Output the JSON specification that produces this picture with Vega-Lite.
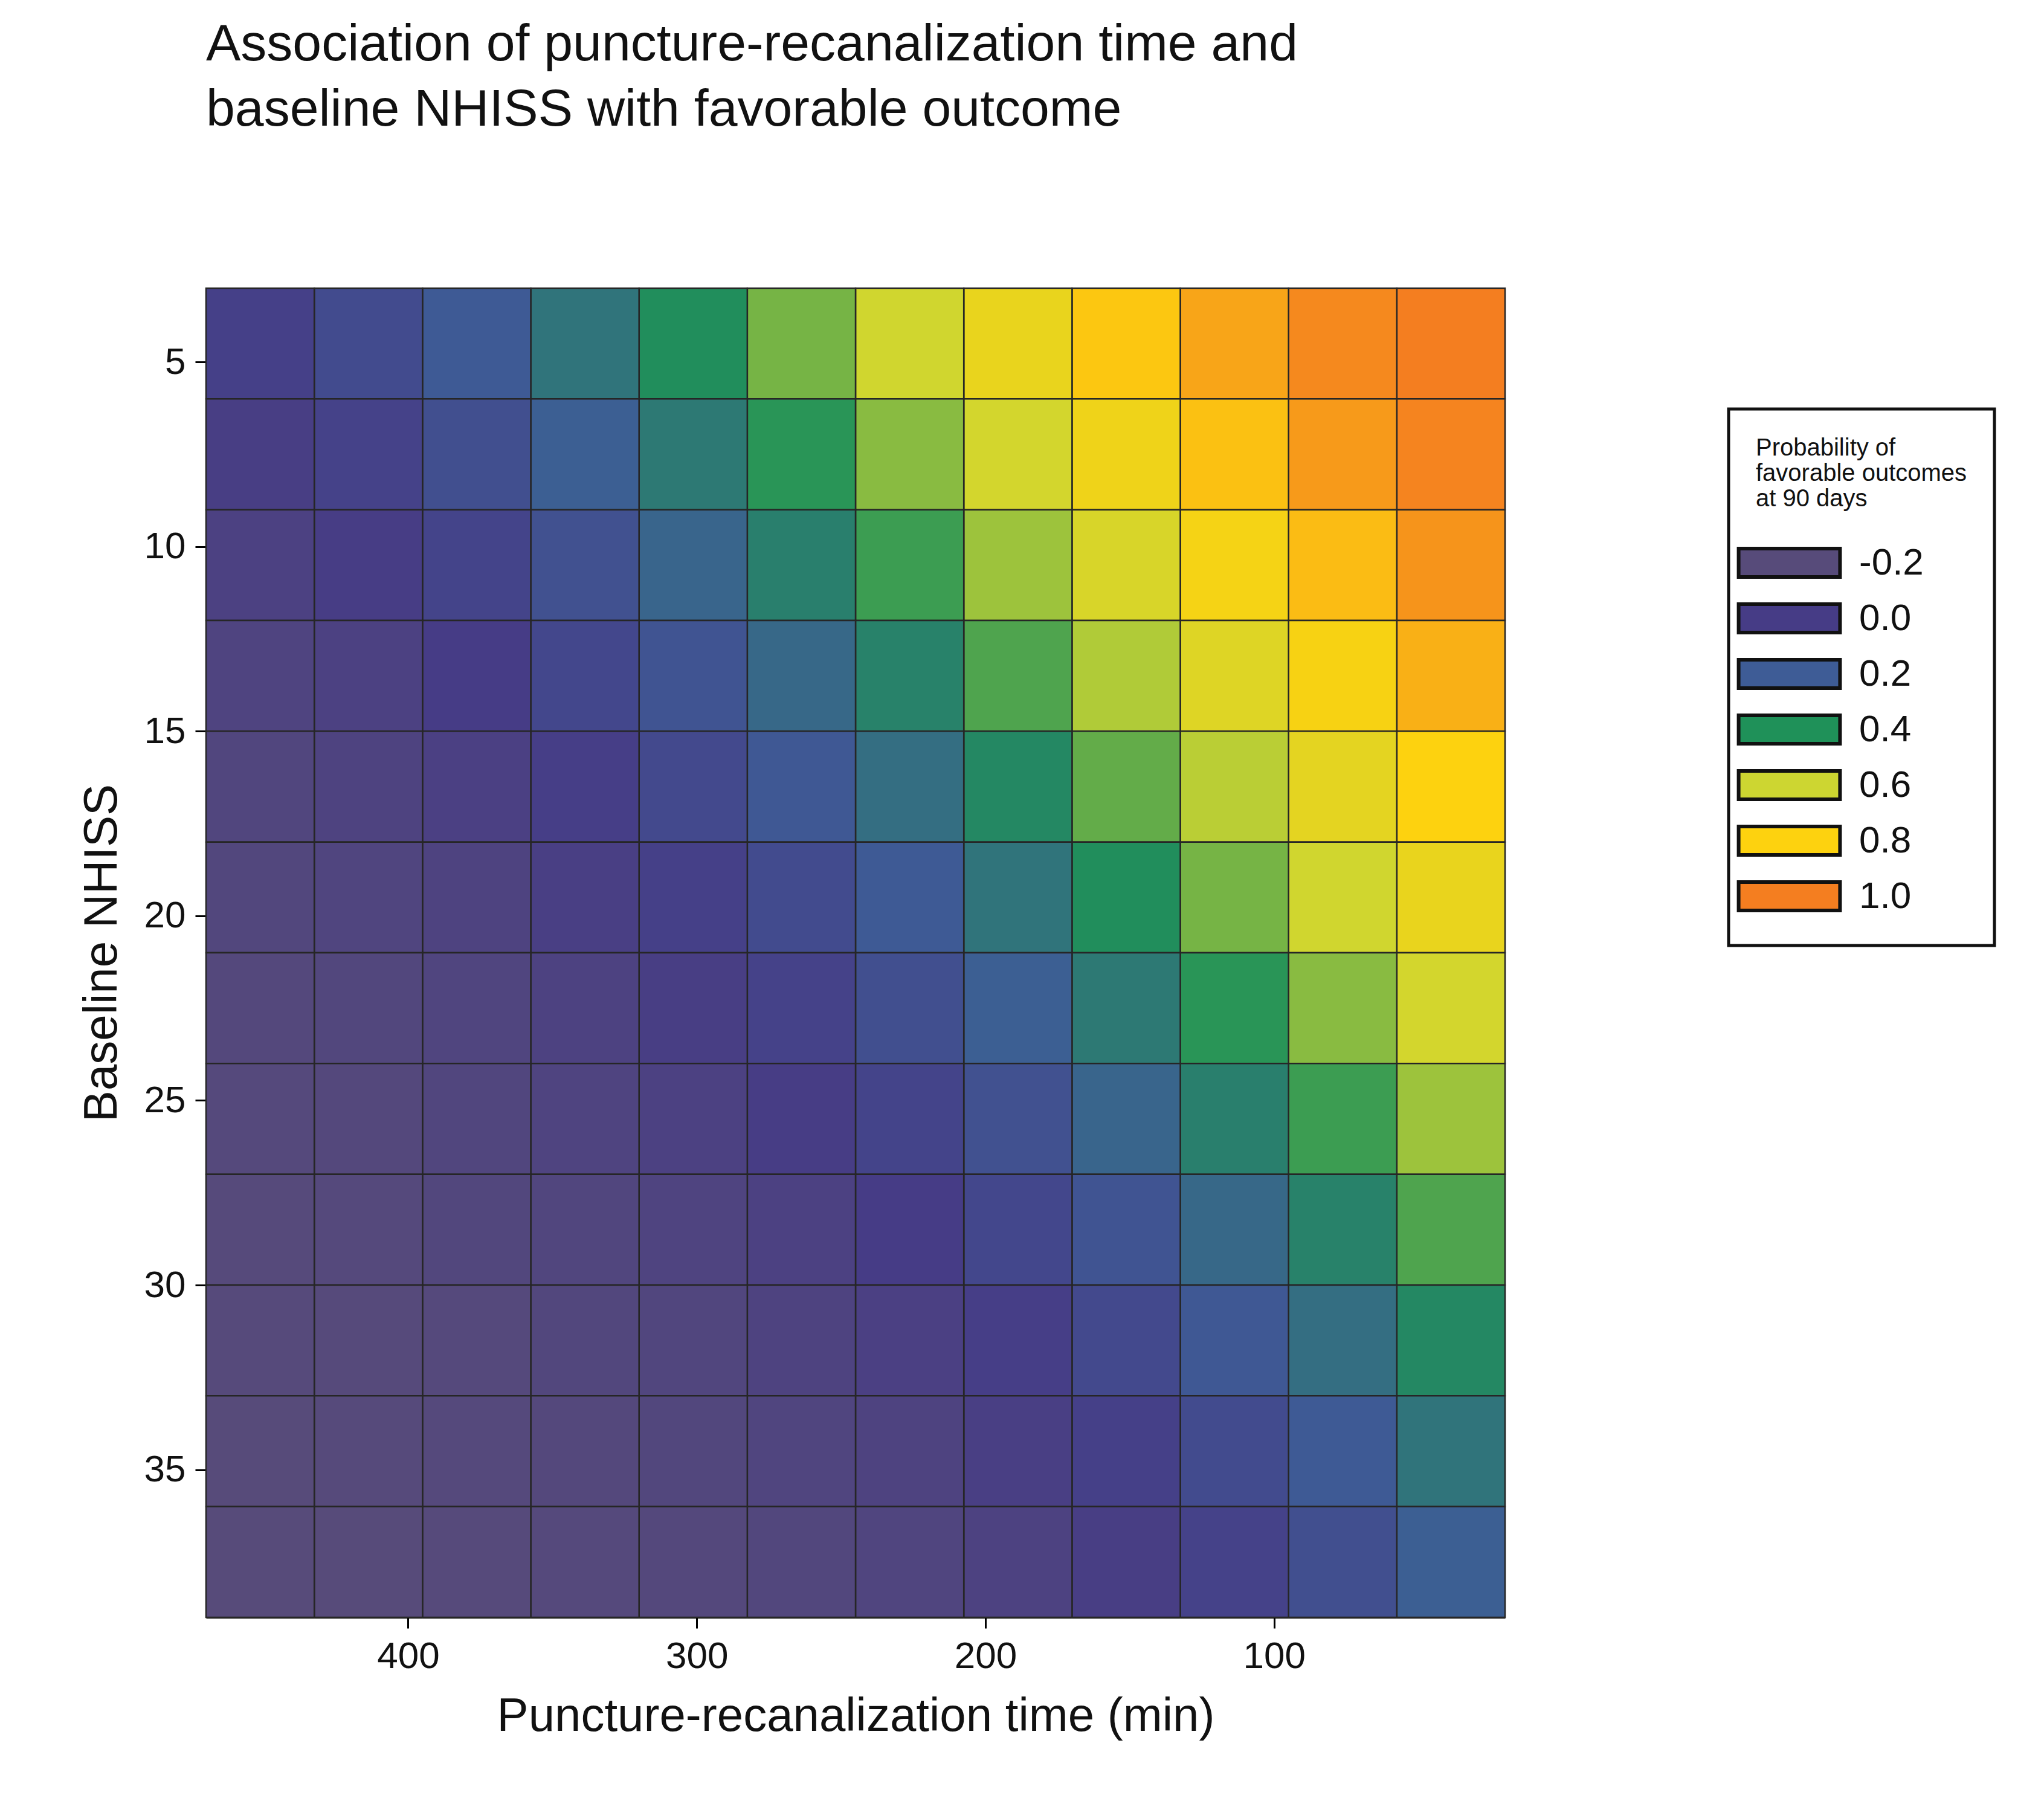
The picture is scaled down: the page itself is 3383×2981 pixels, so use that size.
{
"$schema": "https://vega.github.io/schema/vega-lite/v6.json",
"width": 2150,
"height": 2200,
"padding": {"left": 130, "top": 30, "right": 20, "bottom": 20},
"background": "white",
"config": {"font": "Liberation Sans", "view": {"stroke": null}},
"title": {"text": ["Association of puncture-recanalization time and", "baseline NHISS with favorable outcome"], "anchor": "start", "frame": "group", "fontSize": 86, "fontWeight": "normal", "lineHeight": 108, "offset": 250, "color": "#111111", "font": "Liberation Sans"},
"data": {"values": [
{"t1":20,"t2":57.5,"n1":3,"n2":6,"p":0.97},{"t1":57.5,"t2":95,"n1":3,"n2":6,"p":0.93},{"t1":95,"t2":132.5,"n1":3,"n2":6,"p":0.88},{"t1":132.5,"t2":170,"n1":3,"n2":6,"p":0.82},{"t1":170,"t2":207.5,"n1":3,"n2":6,"p":0.73},{"t1":207.5,"t2":245,"n1":3,"n2":6,"p":0.64},{"t1":245,"t2":282.5,"n1":3,"n2":6,"p":0.54},{"t1":282.5,"t2":320,"n1":3,"n2":6,"p":0.44},{"t1":320,"t2":357.5,"n1":3,"n2":6,"p":0.35},{"t1":357.5,"t2":395,"n1":3,"n2":6,"p":0.26},{"t1":395,"t2":432.5,"n1":3,"n2":6,"p":0.18},{"t1":432.5,"t2":470,"n1":3,"n2":6,"p":0.12},
{"t1":20,"t2":57.5,"n1":6,"n2":9,"p":0.94},{"t1":57.5,"t2":95,"n1":6,"n2":9,"p":0.90},{"t1":95,"t2":132.5,"n1":6,"n2":9,"p":0.83},{"t1":132.5,"t2":170,"n1":6,"n2":9,"p":0.75},{"t1":170,"t2":207.5,"n1":6,"n2":9,"p":0.65},{"t1":207.5,"t2":245,"n1":6,"n2":9,"p":0.56},{"t1":245,"t2":282.5,"n1":6,"n2":9,"p":0.46},{"t1":282.5,"t2":320,"n1":6,"n2":9,"p":0.37},{"t1":320,"t2":357.5,"n1":6,"n2":9,"p":0.28},{"t1":357.5,"t2":395,"n1":6,"n2":9,"p":0.20},{"t1":395,"t2":432.5,"n1":6,"n2":9,"p":0.13},{"t1":432.5,"t2":470,"n1":6,"n2":9,"p":0.08},
{"t1":20,"t2":57.5,"n1":9,"n2":12,"p":0.91},{"t1":57.5,"t2":95,"n1":9,"n2":12,"p":0.84},{"t1":95,"t2":132.5,"n1":9,"n2":12,"p":0.77},{"t1":132.5,"t2":170,"n1":9,"n2":12,"p":0.67},{"t1":170,"t2":207.5,"n1":9,"n2":12,"p":0.58},{"t1":207.5,"t2":245,"n1":9,"n2":12,"p":0.48},{"t1":245,"t2":282.5,"n1":9,"n2":12,"p":0.39},{"t1":282.5,"t2":320,"n1":9,"n2":12,"p":0.30},{"t1":320,"t2":357.5,"n1":9,"n2":12,"p":0.21},{"t1":357.5,"t2":395,"n1":9,"n2":12,"p":0.14},{"t1":395,"t2":432.5,"n1":9,"n2":12,"p":0.09},{"t1":432.5,"t2":470,"n1":9,"n2":12,"p":0.05},
{"t1":20,"t2":57.5,"n1":12,"n2":15,"p":0.86},{"t1":57.5,"t2":95,"n1":12,"n2":15,"p":0.78},{"t1":95,"t2":132.5,"n1":12,"n2":15,"p":0.69},{"t1":132.5,"t2":170,"n1":12,"n2":15,"p":0.60},{"t1":170,"t2":207.5,"n1":12,"n2":15,"p":0.50},{"t1":207.5,"t2":245,"n1":12,"n2":15,"p":0.40},{"t1":245,"t2":282.5,"n1":12,"n2":15,"p":0.31},{"t1":282.5,"t2":320,"n1":12,"n2":15,"p":0.23},{"t1":320,"t2":357.5,"n1":12,"n2":15,"p":0.16},{"t1":357.5,"t2":395,"n1":12,"n2":15,"p":0.10},{"t1":395,"t2":432.5,"n1":12,"n2":15,"p":0.05},{"t1":432.5,"t2":470,"n1":12,"n2":15,"p":0.02},
{"t1":20,"t2":57.5,"n1":15,"n2":18,"p":0.80},{"t1":57.5,"t2":95,"n1":15,"n2":18,"p":0.71},{"t1":95,"t2":132.5,"n1":15,"n2":18,"p":0.61},{"t1":132.5,"t2":170,"n1":15,"n2":18,"p":0.52},{"t1":170,"t2":207.5,"n1":15,"n2":18,"p":0.42},{"t1":207.5,"t2":245,"n1":15,"n2":18,"p":0.33},{"t1":245,"t2":282.5,"n1":15,"n2":18,"p":0.25},{"t1":282.5,"t2":320,"n1":15,"n2":18,"p":0.17},{"t1":320,"t2":357.5,"n1":15,"n2":18,"p":0.11},{"t1":357.5,"t2":395,"n1":15,"n2":18,"p":0.06},{"t1":395,"t2":432.5,"n1":15,"n2":18,"p":0.03},{"t1":432.5,"t2":470,"n1":15,"n2":18,"p":0.00},
{"t1":20,"t2":57.5,"n1":18,"n2":21,"p":0.73},{"t1":57.5,"t2":95,"n1":18,"n2":21,"p":0.64},{"t1":95,"t2":132.5,"n1":18,"n2":21,"p":0.54},{"t1":132.5,"t2":170,"n1":18,"n2":21,"p":0.44},{"t1":170,"t2":207.5,"n1":18,"n2":21,"p":0.35},{"t1":207.5,"t2":245,"n1":18,"n2":21,"p":0.26},{"t1":245,"t2":282.5,"n1":18,"n2":21,"p":0.18},{"t1":282.5,"t2":320,"n1":18,"n2":21,"p":0.12},{"t1":320,"t2":357.5,"n1":18,"n2":21,"p":0.07},{"t1":357.5,"t2":395,"n1":18,"n2":21,"p":0.03},{"t1":395,"t2":432.5,"n1":18,"n2":21,"p":0.01},{"t1":432.5,"t2":470,"n1":18,"n2":21,"p":-0.01},
{"t1":20,"t2":57.5,"n1":21,"n2":24,"p":0.65},{"t1":57.5,"t2":95,"n1":21,"n2":24,"p":0.56},{"t1":95,"t2":132.5,"n1":21,"n2":24,"p":0.46},{"t1":132.5,"t2":170,"n1":21,"n2":24,"p":0.37},{"t1":170,"t2":207.5,"n1":21,"n2":24,"p":0.28},{"t1":207.5,"t2":245,"n1":21,"n2":24,"p":0.20},{"t1":245,"t2":282.5,"n1":21,"n2":24,"p":0.13},{"t1":282.5,"t2":320,"n1":21,"n2":24,"p":0.08},{"t1":320,"t2":357.5,"n1":21,"n2":24,"p":0.04},{"t1":357.5,"t2":395,"n1":21,"n2":24,"p":0.01},{"t1":395,"t2":432.5,"n1":21,"n2":24,"p":-0.01},{"t1":432.5,"t2":470,"n1":21,"n2":24,"p":-0.02},
{"t1":20,"t2":57.5,"n1":24,"n2":27,"p":0.58},{"t1":57.5,"t2":95,"n1":24,"n2":27,"p":0.48},{"t1":95,"t2":132.5,"n1":24,"n2":27,"p":0.39},{"t1":132.5,"t2":170,"n1":24,"n2":27,"p":0.30},{"t1":170,"t2":207.5,"n1":24,"n2":27,"p":0.21},{"t1":207.5,"t2":245,"n1":24,"n2":27,"p":0.14},{"t1":245,"t2":282.5,"n1":24,"n2":27,"p":0.09},{"t1":282.5,"t2":320,"n1":24,"n2":27,"p":0.05},{"t1":320,"t2":357.5,"n1":24,"n2":27,"p":0.02},{"t1":357.5,"t2":395,"n1":24,"n2":27,"p":0.00},{"t1":395,"t2":432.5,"n1":24,"n2":27,"p":-0.02},{"t1":432.5,"t2":470,"n1":24,"n2":27,"p":-0.03},
{"t1":20,"t2":57.5,"n1":27,"n2":30,"p":0.50},{"t1":57.5,"t2":95,"n1":27,"n2":30,"p":0.40},{"t1":95,"t2":132.5,"n1":27,"n2":30,"p":0.31},{"t1":132.5,"t2":170,"n1":27,"n2":30,"p":0.23},{"t1":170,"t2":207.5,"n1":27,"n2":30,"p":0.16},{"t1":207.5,"t2":245,"n1":27,"n2":30,"p":0.10},{"t1":245,"t2":282.5,"n1":27,"n2":30,"p":0.05},{"t1":282.5,"t2":320,"n1":27,"n2":30,"p":0.02},{"t1":320,"t2":357.5,"n1":27,"n2":30,"p":0.00},{"t1":357.5,"t2":395,"n1":27,"n2":30,"p":-0.01},{"t1":395,"t2":432.5,"n1":27,"n2":30,"p":-0.03},{"t1":432.5,"t2":470,"n1":27,"n2":30,"p":-0.04},
{"t1":20,"t2":57.5,"n1":30,"n2":33,"p":0.42},{"t1":57.5,"t2":95,"n1":30,"n2":33,"p":0.33},{"t1":95,"t2":132.5,"n1":30,"n2":33,"p":0.25},{"t1":132.5,"t2":170,"n1":30,"n2":33,"p":0.17},{"t1":170,"t2":207.5,"n1":30,"n2":33,"p":0.11},{"t1":207.5,"t2":245,"n1":30,"n2":33,"p":0.06},{"t1":245,"t2":282.5,"n1":30,"n2":33,"p":0.03},{"t1":282.5,"t2":320,"n1":30,"n2":33,"p":0.00},{"t1":320,"t2":357.5,"n1":30,"n2":33,"p":-0.01},{"t1":357.5,"t2":395,"n1":30,"n2":33,"p":-0.03},{"t1":395,"t2":432.5,"n1":30,"n2":33,"p":-0.04},{"t1":432.5,"t2":470,"n1":30,"n2":33,"p":-0.04},
{"t1":20,"t2":57.5,"n1":33,"n2":36,"p":0.35},{"t1":57.5,"t2":95,"n1":33,"n2":36,"p":0.26},{"t1":95,"t2":132.5,"n1":33,"n2":36,"p":0.18},{"t1":132.5,"t2":170,"n1":33,"n2":36,"p":0.12},{"t1":170,"t2":207.5,"n1":33,"n2":36,"p":0.07},{"t1":207.5,"t2":245,"n1":33,"n2":36,"p":0.03},{"t1":245,"t2":282.5,"n1":33,"n2":36,"p":0.01},{"t1":282.5,"t2":320,"n1":33,"n2":36,"p":-0.01},{"t1":320,"t2":357.5,"n1":33,"n2":36,"p":-0.02},{"t1":357.5,"t2":395,"n1":33,"n2":36,"p":-0.03},{"t1":395,"t2":432.5,"n1":33,"n2":36,"p":-0.04},{"t1":432.5,"t2":470,"n1":33,"n2":36,"p":-0.05},
{"t1":20,"t2":57.5,"n1":36,"n2":39,"p":0.28},{"t1":57.5,"t2":95,"n1":36,"n2":39,"p":0.20},{"t1":95,"t2":132.5,"n1":36,"n2":39,"p":0.13},{"t1":132.5,"t2":170,"n1":36,"n2":39,"p":0.08},{"t1":170,"t2":207.5,"n1":36,"n2":39,"p":0.04},{"t1":207.5,"t2":245,"n1":36,"n2":39,"p":0.01},{"t1":245,"t2":282.5,"n1":36,"n2":39,"p":-0.01},{"t1":282.5,"t2":320,"n1":36,"n2":39,"p":-0.02},{"t1":320,"t2":357.5,"n1":36,"n2":39,"p":-0.03},{"t1":357.5,"t2":395,"n1":36,"n2":39,"p":-0.04},{"t1":395,"t2":432.5,"n1":36,"n2":39,"p":-0.05},{"t1":432.5,"t2":470,"n1":36,"n2":39,"p":-0.05}
]},
"mark": {"type": "rect", "stroke": "#262626", "strokeWidth": 2.5},
"encoding": {
  "x": {"field": "t1", "type": "quantitative", "scale": {"domain": [20, 470], "reverse": true, "nice": false, "zero": false},
        "axis": {"title": "Puncture-recanalization time (min)", "values": [100, 200, 300, 400], "grid": false, "labelFontSize": 62, "titleFontSize": 78, "titleFontWeight": "normal", "titlePadding": 30, "labelPadding": 16, "tickSize": 18, "tickWidth": 3, "domainWidth": 3, "domainColor": "#000000", "tickColor": "#000000", "labelColor": "#111111", "titleColor": "#111111"}},
  "x2": {"field": "t2"},
  "y": {"field": "n1", "type": "quantitative", "scale": {"domain": [3, 39], "reverse": true, "nice": false, "zero": false},
        "axis": {"title": "Baseline NHISS", "values": [5, 10, 15, 20, 25, 30, 35], "grid": false, "labelFontSize": 62, "titleFontSize": 78, "titleFontWeight": "normal", "titlePadding": 30, "labelPadding": 16, "tickSize": 18, "tickWidth": 3, "domainWidth": 3, "domainColor": "#000000", "tickColor": "#000000", "labelColor": "#111111", "titleColor": "#111111"}},
  "y2": {"field": "n2"},
  "color": {"field": "p", "type": "quantitative",
    "scale": {"domain": [-0.05, 0.1, 0.27, 0.45, 0.63, 0.8, 0.95], "range": ["#574b7a", "#463c86", "#3e5c96", "#1f9159", "#cdd631", "#fdd20f", "#f47e20"], "interpolate": "rgb", "clamp": true},
    "legend": {"type": "symbol", "orient": "none", "legendX": 2520, "legendY": 200,
      "values": [-0.05, 0.1, 0.27, 0.45, 0.63, 0.8, 0.95],
      "labelExpr": "datum.value < 0 ? '-0.2' : datum.value < 0.2 ? '0.0' : datum.value < 0.35 ? '0.2' : datum.value < 0.55 ? '0.4' : datum.value < 0.7 ? '0.6' : datum.value < 0.9 ? '0.8' : '1.0'",
      "title": ["Probability of", "favorable outcomes", "at 90 days"], "titleFontSize": 40, "titleFontWeight": "normal", "titleColor": "#111111", "titlePadding": 30, "titleLimit": 900,
      "symbolType": "M-1.6,-0.45L1.6,-0.45L1.6,0.45L-1.6,0.45Z", "symbolSize": 11000, "symbolStrokeColor": "#111111", "symbolStrokeWidth": 6, "symbolOpacity": 1,
      "labelFontSize": 62, "labelColor": "#111111", "labelOffset": 60, "rowPadding": 0,
      "strokeColor": "#111111", "fillColor": "white", "padding": 45,
      "encode": {"legend": {"update": {"strokeWidth": {"value": 5}}}}}}
}
}
